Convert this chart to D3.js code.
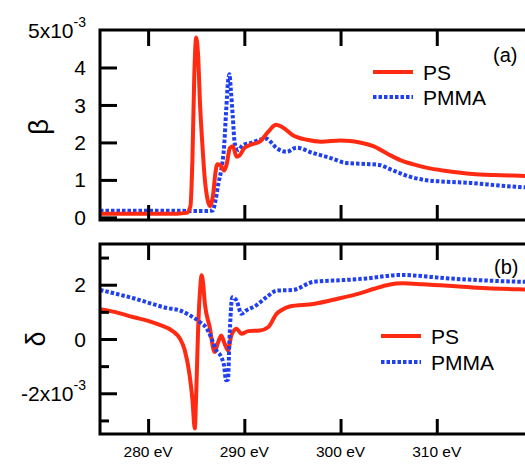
<!DOCTYPE html>
<html><head><meta charset="utf-8">
<script src="https://cdn.jsdelivr.net/npm/d3@7"></script>
<style>body{margin:0;background:#fff}svg{display:block;font-family:"Liberation Sans",Arial,sans-serif}</style>
</head><body><svg id="c" width="525" height="464"></svg>
<script>
// ---- data ----
const xTicks = [280, 290, 300, 310, 320];
const xTickLabels = ["280 eV", "290 eV", "300 eV", "310 eV"];
const betaTicks = [0, 1, 2, 3, 4, 5];
const betaTickLabels = ["0", "1", "2", "3", "4", "5x10"];
const deltaMajorTicks = [-2, 0, 2];
const deltaTickLabels = ["-2x10", "0", "2"];
const deltaMinorTicks = [-3, -1, 1, 3];
const seriesNames = ["PS", "PMMA"];

const psBetaE = [275,280,283,284,284.4,284.6,284.8,285.0,285.2,285.4,285.6,285.9,286.2,286.45,286.75,287.0,287.2,287.5,287.9,288.15,288.5,288.8,289.2,289.5,290.0,290.7,291.6,292.5,293.3,294.0,295.0,296.5,298.0,300.0,301.0,302.0,303.4,305.0,306.2,307.5,309.0,311.0,313.7,316.0,318.6,320];
const psBetaV = [0.1,0.1,0.1,0.12,0.3,1.5,3.8,4.8,4.3,3.0,2.1,1.0,0.45,0.3,0.6,1.2,1.42,1.4,1.25,1.4,1.85,1.9,1.62,1.65,1.85,1.94,2.02,2.29,2.47,2.4,2.2,2.07,2.02,2.05,2.04,2.0,1.9,1.68,1.53,1.42,1.32,1.24,1.16,1.13,1.11,1.1];

const pmmaBetaE = [275,280,286.0,286.7,287.0,287.3,287.6,287.9,288.1,288.3,288.45,288.6,288.8,289.0,289.35,289.9,290.6,291.6,292.3,292.8,293.35,294.4,295.4,297.1,298.9,300.6,303.0,304.0,305.3,307.0,308.7,311.0,313.5,316.0,318.6,320];
const pmmaBetaV = [0.18,0.18,0.17,0.18,0.45,0.9,1.27,1.9,2.8,3.6,3.82,3.4,2.69,1.98,1.8,1.94,1.98,2.07,2.1,2.0,1.85,1.75,1.86,1.72,1.59,1.45,1.42,1.4,1.27,1.1,1.0,0.95,0.92,0.86,0.81,0.79];

const psDeltaE = [275,276.5,278.5,280,281.2,282.6,283.3,283.8,284.3,284.6,284.85,285.0,285.2,285.4,285.55,285.7,285.9,286.4,286.9,287.25,287.6,287.95,288.3,288.65,289.2,289.7,290.4,291.6,292.5,293.35,293.8,294.7,297.2,299.9,302.0,303.5,305.0,306.5,308.5,313.7,318.6,320];
const psDeltaV = [1.1,1.0,0.8,0.67,0.52,0.28,0.02,-0.4,-1.3,-2.2,-3.3,-2.0,0.4,1.8,2.35,2.1,1.3,0.44,-0.48,-0.15,0.13,-0.17,-0.42,0.13,0.38,0.19,0.29,0.31,0.44,0.93,1.05,1.2,1.29,1.5,1.68,1.85,2.0,2.05,2.02,1.9,1.83,1.82];

const pmmaDeltaE = [275,278.5,282,283.3,284.35,285.4,286.1,286.6,287.1,287.6,287.9,288.1,288.3,288.45,288.75,289.2,289.7,290.2,291.2,292.3,293.35,295.1,297.2,300.3,302.7,306.2,311.3,318.6,320];
const pmmaDeltaV = [1.81,1.5,1.14,1.05,0.87,0.62,0.38,0.01,-0.42,-0.66,-1.0,-1.52,-1.5,-0.05,1.54,1.41,0.93,1.05,1.23,1.54,1.78,1.81,2.11,2.17,2.23,2.36,2.23,2.11,2.1];

// ---- drawing ----
const svg = d3.select("#c");
const RED = "#ff2a12", BLUE = "#2040f0";
const L = 100, R = 533;
const x = d3.scaleLinear().domain([275, 320]).range([L, R]);
const yB = d3.scaleLinear().domain([-0.07, 5]).range([220, 30]);
const yD = d3.scaleLinear().domain([-3.5, 3.5]).range([434, 244]);

const defs = svg.append("defs");
defs.append("clipPath").attr("id","clipA").append("rect").attr("x",L).attr("y",30).attr("width",R-L).attr("height",190);
defs.append("clipPath").attr("id","clipB").append("rect").attr("x",L).attr("y",244).attr("width",R-L).attr("height",190);

function zip(E, V){ return E.map((e,i)=>[e, V[i]]); }

function panel(y, top, bottom, clip, series, order){
  const g = svg.append("g");
  const line = d3.line().x(d=>x(d[0])).y(d=>y(d[1])).curve(d3.curveMonotoneX);
  const cg = g.append("g").attr("clip-path", `url(#${clip})`);
  order.forEach(k => {
    const s = series[k];
    cg.append("path").attr("d", line(s.data)).attr("fill","none")
      .attr("stroke", s.color).attr("stroke-width", 4)
      .attr("stroke-dasharray", s.dash || null).attr("stroke-linejoin","round");
  });
  const axT = d3.axisTop(x).tickValues(xTicks).tickSize(-16).tickFormat("");
  const axB = d3.axisBottom(x).tickValues(xTicks).tickSize(-15).tickFormat("");
  [[axT, top],[axB, bottom]].forEach(([ax, yy])=>{
    const a = g.append("g").attr("transform",`translate(0,${yy})`).call(ax);
    a.select(".domain").remove();
    a.selectAll("line").attr("stroke","#000").attr("stroke-width",3);
  });
  g.append("path").attr("d", `M${R},${top}H${L}V${bottom}H${R}`).attr("fill","none")
    .attr("stroke","#000").attr("stroke-width",3);
  return g;
}

const gA = panel(yB, 30, 220, "clipA", {
  ps: {data: zip(psBetaE, psBetaV), color: RED},
  pmma: {data: zip(pmmaBetaE, pmmaBetaV), color: BLUE, dash: "3.5,2"}
}, ["pmma","ps"]);

const gB = panel(yD, 244, 434, "clipB", {
  ps: {data: zip(psDeltaE, psDeltaV), color: RED},
  pmma: {data: zip(pmmaDeltaE, pmmaDeltaV), color: BLUE, dash: "3.5,2"}
}, ["ps","pmma"]);

function yAxis(g, y, ticks, size){
  const a = g.append("g").attr("transform",`translate(${L},0)`)
    .call(d3.axisLeft(y).tickValues(ticks).tickSize(-size).tickFormat(""));
  a.select(".domain").remove();
  a.selectAll("line").attr("stroke","#000").attr("stroke-width",3);
}
yAxis(gA, yB, betaTicks.filter(v=>v<5), 17);
yAxis(gB, yD, deltaMajorTicks, 17);
yAxis(gB, yD, deltaMinorTicks, 9);

function yLabels(g, y, vals, labels){
  vals.forEach((v,i)=>{
    const lab = labels[i];
    const t = g.append("text").attr("x", 86).attr("y", y(v)).attr("dy","0.36em")
      .attr("text-anchor","end").attr("font-size", 21).attr("fill","#000");
    if (lab.indexOf("x10") >= 0){
      t.append("tspan").text(lab);
      t.append("tspan").attr("dy", -11).attr("font-size", 14).text("-3");
    } else t.text(lab);
  });
}
yLabels(gA, yB, betaTicks, betaTickLabels);
yLabels(gB, yD, deltaMajorTicks, deltaTickLabels);

xTickLabels.forEach((lab,i)=>{
  svg.append("text").attr("x", x(xTicks[i])).attr("y", 457).attr("text-anchor","middle")
    .attr("font-size", 15.5).text(lab);
});

svg.append("text").attr("transform","translate(48,127) rotate(-90)").attr("text-anchor","middle")
  .attr("font-size", 28).text("β");
svg.append("text").attr("transform","translate(45,339) rotate(-90)").attr("text-anchor","middle")
  .attr("font-size", 27).text("δ");

svg.append("text").attr("x", 493).attr("y", 62).attr("font-size", 20).text("(a)");
svg.append("text").attr("x", 494).attr("y", 274).attr("font-size", 20).text("(b)");

function legend(x0, y0, tx, gap){
  [[RED, null, seriesNames[0]],[BLUE, "3.5,2", seriesNames[1]]].forEach(([c,d,n],i)=>{
    const yy = y0 + i*gap;
    svg.append("line").attr("x1", x0).attr("x2", x0+40).attr("y1", yy).attr("y2", yy)
      .attr("stroke", c).attr("stroke-width", 4).attr("stroke-dasharray", d);
    svg.append("text").attr("x", tx).attr("y", yy).attr("dy","0.36em").attr("font-size", 21).text(n);
  });
}
legend(373, 72, 423, 25);
legend(381, 336, 431, 26);
</script></body></html>
